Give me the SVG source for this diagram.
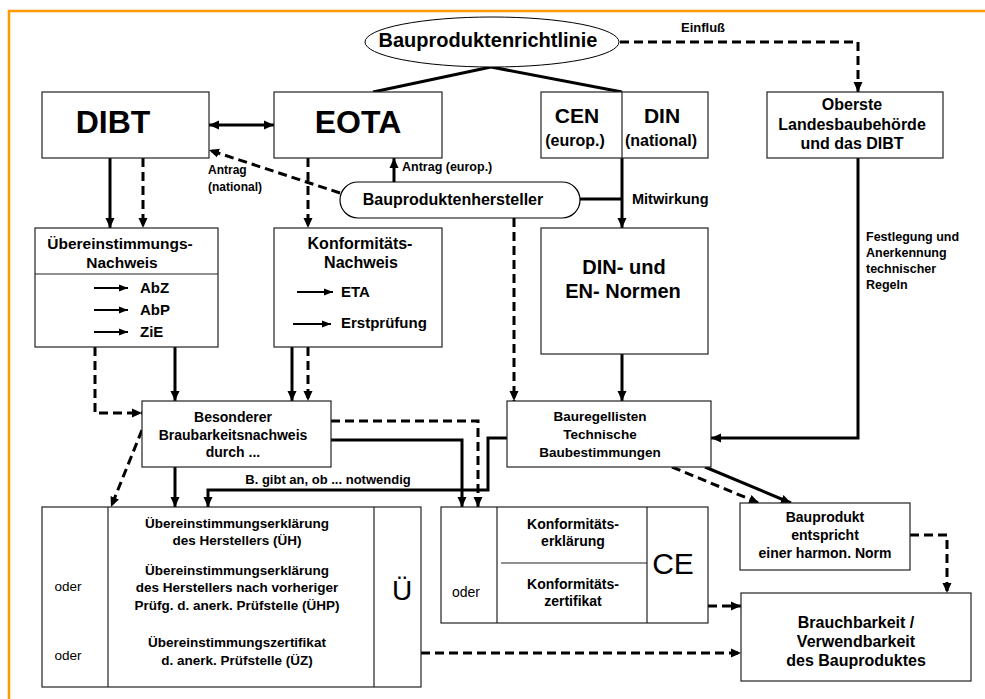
<svg xmlns="http://www.w3.org/2000/svg" width="985" height="699" viewBox="0 0 985 699">
<defs>
<style>
.bx{fill:#fff;stroke:#222;stroke-width:1.2}
.ln{fill:none;stroke:#000;stroke-width:3}
.ds{fill:none;stroke:#000;stroke-width:3;stroke-dasharray:9 5}
.th{fill:none;stroke:#000;stroke-width:2}
.b{font-family:"Liberation Sans",Arial,sans-serif;font-weight:bold;fill:#000}
.n{font-family:"Liberation Sans",Arial,sans-serif;fill:#000}
.m{text-anchor:middle}
</style>
<marker id="ah" markerWidth="10" markerHeight="10" refX="10" refY="5" orient="auto" markerUnits="userSpaceOnUse"><path d="M0,0.5 L10,5 L0,9.5 z" fill="#000"/></marker>
<marker id="ahs" markerWidth="10" markerHeight="10" refX="0" refY="5" orient="auto" markerUnits="userSpaceOnUse"><path d="M10,0.5 L0,5 L10,9.5 z" fill="#000"/></marker>
<marker id="sm" markerWidth="9" markerHeight="8" refX="9" refY="4" orient="auto" markerUnits="userSpaceOnUse"><path d="M0,0.5 L9,4 L0,7.5 z" fill="#000"/></marker>
</defs>
<rect width="985" height="699" fill="#fff"/>
<g id="frame">
<line x1="8" y1="11" x2="985" y2="11" stroke="#FF9900" stroke-width="2.5"/>
<line x1="9" y1="10" x2="9" y2="699" stroke="#FF9900" stroke-width="2.5"/>
</g>

<g id="connectors">
<line class="ln" x1="491" y1="67" x2="373" y2="92"/>
<line class="ln" x1="491" y1="67" x2="622" y2="92"/>
<path class="ds" d="M620,42 H858 V92" marker-end="url(#ah)"/>
<line class="ln" x1="209" y1="125" x2="274" y2="125" marker-start="url(#ahs)" marker-end="url(#ah)"/>
<line class="ds" x1="340" y1="193" x2="209" y2="150" marker-end="url(#ah)"/>
<line class="ln" x1="394" y1="182" x2="394" y2="158" marker-end="url(#ah)"/>
<line class="ln" x1="580" y1="199" x2="622" y2="199"/>
<line class="ln" x1="622" y1="158" x2="622" y2="228" marker-end="url(#ah)"/>
<line class="ds" x1="514" y1="218" x2="514" y2="401" marker-end="url(#ah)"/>
<line class="ln" x1="110" y1="158" x2="110" y2="228" marker-end="url(#ah)"/>
<line class="ds" x1="143" y1="158" x2="143" y2="228" marker-end="url(#ah)"/>
<line class="ds" x1="308" y1="158" x2="308" y2="228" marker-end="url(#ah)"/>
<path class="ds" d="M95,347 V413 H142" marker-end="url(#ah)"/>
<line class="ln" x1="175" y1="347" x2="175" y2="401" marker-end="url(#ah)"/>
<line class="ln" x1="292" y1="347" x2="292" y2="401" marker-end="url(#ah)"/>
<line class="ds" x1="308" y1="347" x2="308" y2="401" marker-end="url(#ah)"/>
<line class="ln" x1="622" y1="354" x2="622" y2="401" marker-end="url(#ah)"/>
<path class="ln" d="M858,158 V438 H711" marker-end="url(#ah)"/>
<path class="ds" d="M331,421 H478 V507" marker-end="url(#ah)"/>
<path class="ln" d="M331,440 H462 V507" marker-end="url(#ah)"/>
<line class="ln" x1="175" y1="467" x2="175" y2="507" marker-end="url(#ah)"/>
<line class="ds" x1="142" y1="430" x2="111" y2="507" marker-end="url(#ah)"/>
<path class="ln" d="M507,438 H488 V490 H208 V507" marker-end="url(#ah)"/>
<line class="ds" x1="672" y1="467" x2="759" y2="503" marker-end="url(#ah)"/>
<line class="ln" x1="705" y1="467" x2="791" y2="503" marker-end="url(#ah)"/>
<path class="ds" d="M910,535 H947 V593" marker-end="url(#ah)"/>
<line class="ds" x1="708" y1="606" x2="741" y2="606" marker-end="url(#ah)"/>
<line class="ds" x1="421" y1="653" x2="741" y2="653" marker-end="url(#ah)"/>
</g>

<g id="labels">
<text class="b m" x="703" y="32" font-size="13">Einfluß</text>
<text class="b" x="208" y="174" font-size="12">Antrag</text>
<text class="b" x="208" y="191" font-size="12">(national)</text>
<text class="b" x="402" y="171" font-size="12.5">Antrag (europ.)</text>
<text class="b" x="632" y="204" font-size="14.5">Mitwirkung</text>
<text class="b" x="866" y="241" font-size="12.5">Festlegung und</text>
<text class="b" x="866" y="257" font-size="12.5">Anerkennung</text>
<text class="b" x="866" y="273" font-size="12.5">technischer</text>
<text class="b" x="866" y="289" font-size="12.5">Regeln</text>
<text class="b m" x="328" y="484" font-size="13">B. gibt an, ob ... notwendig</text>
</g>

<g id="bauproduktenrichtlinie">
<ellipse cx="492" cy="42" rx="127" ry="25" fill="#fff" stroke="#000" stroke-width="1"/>
<text class="b m" x="488" y="47" font-size="20">Bauproduktenrichtlinie</text>
</g>

<g id="dibt">
<rect class="bx" x="42" y="92" width="167" height="66"/>
<text class="b m" x="113" y="133" font-size="32">DIBT</text>
</g>

<g id="eota">
<rect class="bx" x="274" y="92" width="168" height="66"/>
<text class="b m" x="358" y="133" font-size="32">EOTA</text>
</g>

<g id="cen-din">
<rect class="bx" x="541" y="92" width="167" height="66"/>
<line x1="622" y1="92" x2="622" y2="158" stroke="#222" stroke-width="1.2"/>
<text class="b m" x="577" y="123" font-size="21">CEN</text>
<text class="b m" x="575" y="146" font-size="16">(europ.)</text>
<text class="b m" x="662" y="123" font-size="21">DIN</text>
<text class="b m" x="661" y="146" font-size="16">(national)</text>
</g>

<g id="oberste">
<rect class="bx" x="767" y="92" width="176" height="66"/>
<text class="b m" x="852" y="110" font-size="16">Oberste</text>
<text class="b m" x="852" y="130" font-size="16">Landesbaubehörde</text>
<text class="b m" x="852" y="149" font-size="16">und das DIBT</text>
</g>

<g id="hersteller">
<rect x="340" y="182" width="240" height="36" rx="18" fill="#fff" stroke="#000" stroke-width="1.2"/>
<text class="b m" x="453" y="205" font-size="16">Bauproduktenhersteller</text>
</g>

<g id="uebereinstimmungs-nachweis">
<rect class="bx" x="35" y="228" width="183" height="119"/>
<line x1="35" y1="274" x2="218" y2="274" stroke="#222" stroke-width="1.2"/>
<text class="b m" x="120" y="249" font-size="15.5">Übereinstimmungs-</text>
<text class="b m" x="122" y="268" font-size="15.5">Nachweis</text>
<line class="th" x1="94" y1="288" x2="128" y2="288" marker-end="url(#sm)"/>
<line class="th" x1="94" y1="310" x2="128" y2="310" marker-end="url(#sm)"/>
<line class="th" x1="94" y1="332" x2="128" y2="332" marker-end="url(#sm)"/>
<text class="b" x="140" y="293" font-size="15">AbZ</text>
<text class="b" x="140" y="315" font-size="15">AbP</text>
<text class="b" x="140" y="337" font-size="15">ZiE</text>
</g>

<g id="konformitaets-nachweis">
<rect class="bx" x="274" y="228" width="168" height="119"/>
<text class="b m" x="360" y="249" font-size="16">Konformitäts-</text>
<text class="b m" x="361" y="268" font-size="16">Nachweis</text>
<line class="th" x1="297" y1="292" x2="333" y2="292" marker-end="url(#sm)"/>
<line class="th" x1="293" y1="324" x2="331" y2="324" marker-end="url(#sm)"/>
<text class="b" x="341" y="297" font-size="15">ETA</text>
<text class="b" x="341" y="328" font-size="15">Erstprüfung</text>
</g>

<g id="din-normen">
<rect class="bx" x="541" y="228" width="167" height="126"/>
<text class="b m" x="624" y="274" font-size="20">DIN- und</text>
<text class="b m" x="623" y="298" font-size="20">EN- Normen</text>
</g>

<g id="besonderer">
<rect class="bx" x="142" y="401" width="189" height="66"/>
<text class="b m" x="233" y="422" font-size="14">Besonderer</text>
<text class="b m" x="233" y="440" font-size="14">Braubarkeitsnachweis</text>
<text class="b m" x="233" y="457" font-size="14">durch ...</text>
</g>

<g id="bauregellisten">
<rect class="bx" x="507" y="401" width="204" height="66"/>
<text class="b m" x="600" y="421" font-size="13.5">Bauregellisten</text>
<text class="b m" x="600" y="439" font-size="13.5">Technische</text>
<text class="b m" x="600" y="457" font-size="13.5">Baubestimmungen</text>
</g>

<g id="ue-box">
<rect class="bx" x="42" y="507" width="379" height="180"/>
<line x1="108" y1="507" x2="108" y2="687" stroke="#222" stroke-width="1.2"/>
<line x1="374" y1="507" x2="374" y2="687" stroke="#222" stroke-width="1.2"/>
<text class="n m" x="68" y="591" font-size="13.5">oder</text>
<text class="n m" x="68" y="660" font-size="13.5">oder</text>
<text class="b m" x="237" y="528" font-size="13.5">Übereinstimmungserklärung</text>
<text class="b m" x="237" y="545" font-size="13.5">des Herstellers (ÜH)</text>
<text class="b m" x="237" y="575" font-size="13.5">Übereinstimmungserklärung</text>
<text class="b m" x="237" y="592" font-size="13.5">des Herstellers nach vorheriger</text>
<text class="b m" x="237" y="610" font-size="13.5">Prüfg. d. anerk. Prüfstelle (ÜHP)</text>
<text class="b m" x="237" y="647" font-size="13.5">Übereinstimmungszertifikat</text>
<text class="b m" x="237" y="665" font-size="13.5">d. anerk. Prüfstelle (ÜZ)</text>
<text class="n m" x="402" y="600" font-size="28">Ü</text>
</g>

<g id="ce-box">
<rect class="bx" x="441" y="507" width="267" height="116"/>
<line x1="497" y1="507" x2="497" y2="623" stroke="#222" stroke-width="1.2"/>
<line x1="647" y1="507" x2="647" y2="623" stroke="#222" stroke-width="1.2"/>
<line x1="501" y1="563" x2="647" y2="563" stroke="#222" stroke-width="1.2"/>
<text class="n m" x="466" y="597" font-size="14">oder</text>
<text class="b m" x="573" y="529" font-size="14">Konformitäts-</text>
<text class="b m" x="573" y="546" font-size="14">erklärung</text>
<text class="b m" x="573" y="589" font-size="14">Konformitäts-</text>
<text class="b m" x="573" y="606" font-size="14">zertifikat</text>
<text class="n m" x="673" y="574" font-size="30">CE</text>
</g>

<g id="bauprodukt">
<rect class="bx" x="740" y="503" width="170" height="67"/>
<text class="b m" x="825" y="522" font-size="14">Bauprodukt</text>
<text class="b m" x="825" y="540" font-size="14">entspricht</text>
<text class="b m" x="825" y="558" font-size="14">einer harmon. Norm</text>
</g>

<g id="brauchbarkeit">
<rect class="bx" x="741" y="593" width="230" height="88"/>
<text class="b m" x="856" y="628" font-size="16">Brauchbarkeit /</text>
<text class="b m" x="856" y="647" font-size="16">Verwendbarkeit</text>
<text class="b m" x="856" y="666" font-size="16">des Bauproduktes</text>
</g>
</svg>
